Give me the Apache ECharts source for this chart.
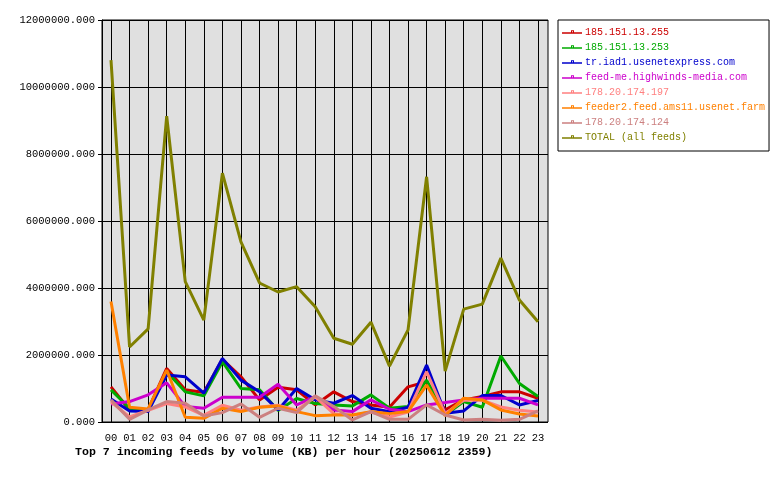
<!DOCTYPE html>
<html>
<head>
<meta charset="utf-8">
<script src="https://cdn.jsdelivr.net/npm/echarts@6/dist/echarts.min.js"></script>
<style>
  html, body { margin: 0; padding: 0; background: #fff; }
  #chart { width: 780px; height: 480px; }
</style>
</head>
<body>
<div id="chart"></div>
<script>
var hours = ['00','01','02','03','04','05','06','07','08','09','10','11',
             '12','13','14','15','16','17','18','19','20','21','22','23']

// values in KB
var feed255 = [1050000, 360000, 370000, 1600000, 960000, 880000, 1870000, 1350000, 660000, 1040000, 960000, 510000,
               900000, 610000, 510000, 440000, 1050000, 1200000, 360000, 660000, 760000, 900000, 900000, 710000]
var feed253 = [960000, 410000, 360000, 1500000, 900000, 780000, 1800000, 1000000, 960000, 340000, 700000, 550000,
               510000, 480000, 810000, 410000, 460000, 1250000, 210000, 610000, 440000, 1970000, 1150000, 760000]
var iad1 = [690000, 330000, 310000, 1400000, 1350000, 860000, 1900000, 1250000, 900000, 360000, 1000000, 660000,
            560000, 790000, 410000, 310000, 440000, 1700000, 260000, 330000, 790000, 790000, 510000, 640000]
var highwinds = [540000, 610000, 810000, 1170000, 460000, 410000, 740000, 740000, 740000, 1130000, 510000, 760000,
                 360000, 310000, 660000, 380000, 310000, 510000, 580000, 660000, 710000, 710000, 710000, 510000]
var feed197 = [600000, 150000, 350000, 550000, 450000, 200000, 500000, 350000, 450000, 500000, 350000, 750000,
               250000, 200000, 300000, 150000, 300000, 1500000, 250000, 650000, 650000, 450000, 350000, 300000]
var ams11 = [3600000, 440000, 390000, 1550000, 140000, 110000, 410000, 310000, 440000, 480000, 310000, 190000,
             210000, 210000, 310000, 250000, 310000, 1100000, 190000, 710000, 660000, 360000, 240000, 180000]
var feed124 = [660000, 80000, 360000, 610000, 560000, 180000, 280000, 540000, 140000, 410000, 280000, 780000,
               460000, 60000, 310000, 80000, 80000, 510000, 210000, 60000, 80000, 50000, 80000, 330000]
var total = [10800000, 2240000, 2780000, 9130000, 4190000, 3040000, 7430000, 5380000, 4150000, 3880000, 4040000, 3440000,
             2500000, 2320000, 2980000, 1670000, 2750000, 7320000, 1520000, 3370000, 3520000, 4890000, 3640000, 2990000]

var names = ['185.151.13.255', '185.151.13.253', 'tr.iad1.usenetexpress.com', 'feed-me.highwinds-media.com',
             '178.20.174.197', 'feeder2.feed.ams11.usenet.farm', '178.20.174.124', 'TOTAL (all feeds)']
var colors = ['#cc0000', '#00aa00', '#0000cc', '#cc00cc', '#ff8080', '#ff8000', '#cc8080', '#808000']
var values = [feed255, feed253, iad1, highwinds, feed197, ams11, feed124, total]

var mono = '"Liberation Mono", "DejaVu Sans Mono", monospace'
// line with a small box on top, as in the legend of the original
var legendIcon = 'path://M0,3.5L20,3.5L20,5L0,5Z M9,1.5L12,1.5L12,4L11,4L11,2.5L10,2.5L10,4L9,4Z'

var chart = echarts.init(document.getElementById('chart'))

var series = names.map(function (n, i) {
  return {
    name: n,
    type: 'line',
    xAxisIndex: 1,
    yAxisIndex: 1,
    data: values[i],
    showSymbol: false,
    lineStyle: { width: 3, color: colors[i] },
    itemStyle: { color: colors[i] },
    emphasis: { disabled: true }
  }
})

chart.setOption({
  animation: false,
  backgroundColor: '#fff',
  title: {
    text: 'Top 7 incoming feeds by volume (KB) per hour (20250612 2359)',
    left: 75,
    top: 446,
    padding: 0,
    textStyle: { fontFamily: mono, fontSize: 11.6, fontWeight: 'bold', color: '#000' }
  },
  legend: {
    orient: 'vertical',
    left: 558,
    top: 20,
    width: 212,
    padding: [6, 4, 8, 4],
    backgroundColor: '#fff',
    borderColor: '#000',
    borderWidth: 1,
    itemWidth: 20,
    itemHeight: 5,
    itemGap: 3,
    icon: legendIcon,
    selectedMode: false,
    textStyle: { fontFamily: mono, fontSize: 10, lineHeight: 12, padding: [0, 0, 0, -2] },
    data: names.map(function (n, i) {
      return { name: n, textStyle: { color: colors[i] } }
    })
  },
  grid: [
    { left: 102, top: 20, width: 446, height: 402, show: true,
      backgroundColor: '#e0e0e0', borderColor: '#000', borderWidth: 1 },
    { left: 111, top: 20, width: 427, height: 402 }
  ],
  xAxis: [
    { gridIndex: 0, type: 'value', min: 0, max: 1, show: false },
    {
      gridIndex: 1,
      type: 'category',
      boundaryGap: false,
      data: hours,
      axisLine: { show: false },
      axisTick: { show: false },
      axisLabel: { margin: 11, fontFamily: mono, fontSize: 10.5, color: '#000' },
      splitLine: { show: true, lineStyle: { color: '#000', width: 1 } }
    }
  ],
  yAxis: [
    {
      gridIndex: 0,
      type: 'value',
      min: 0,
      max: 12000000,
      interval: 2000000,
      axisLine: { show: true, lineStyle: { color: '#000' } },
      axisTick: { show: true, length: 4, lineStyle: { color: '#000' } },
      axisLabel: {
        margin: 7,
        fontFamily: mono,
        fontSize: 10.5,
        color: '#000',
        formatter: function (v) { return v.toFixed(3) }
      },
      splitLine: { show: true, lineStyle: { color: '#000', width: 1 } }
    },
    { gridIndex: 1, type: 'value', min: 0, max: 12000000, show: false }
  ],
  series: series
})
</script>
</body>
</html>
